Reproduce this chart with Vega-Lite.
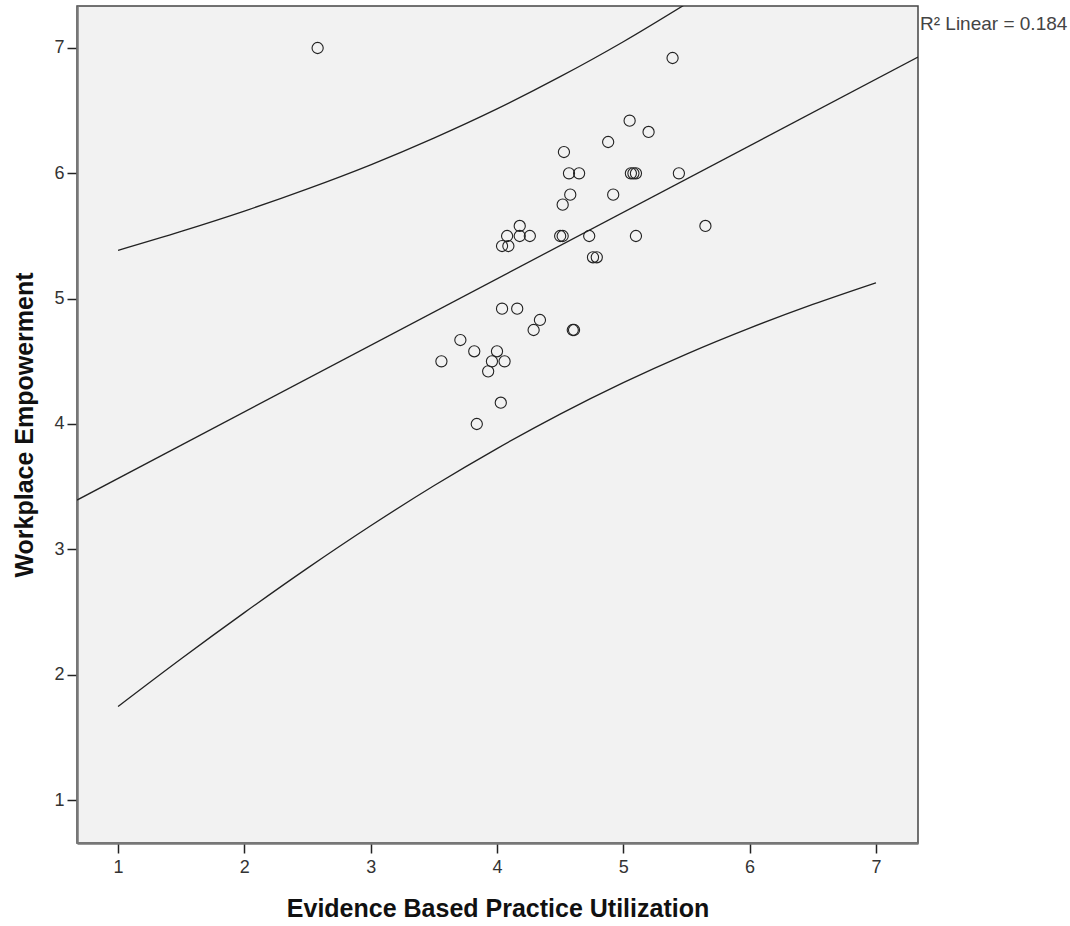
{
  "$schema": "https://vega.github.io/schema/vega-lite/v6.json",
  "autosize": {"type": "none"},
  "width": 841,
  "height": 837,
  "padding": {"left": 77, "top": 6, "right": 152, "bottom": 83},
  "background": "white",
  "config": {
    "view": {"fill": "#f2f2f2", "stroke": "#444444", "strokeWidth": 1.5},
    "font": "Liberation Sans",
    "axis": {
      "grid": false,
      "domainColor": "#777777",
      "domainWidth": 2.5,
      "tickColor": "#222222",
      "tickSize": 10,
      "tickWidth": 1.5,
      "labelColor": "#333333",
      "labelFont": "Liberation Sans Narrow, Liberation Sans",
      "labelFontSize": 18,
      "format": "d",
      "titleFont": "Liberation Sans",
      "titleFontSize": 25,
      "titleFontWeight": "bold",
      "titleColor": "#111111"
    }
  },
  "datasets": {
    "points": [
      {"x": 2.58, "y": 7.0}, {"x": 5.39, "y": 6.92}, {"x": 5.05, "y": 6.42}, {"x": 5.2, "y": 6.33},
      {"x": 4.88, "y": 6.25}, {"x": 4.53, "y": 6.17}, {"x": 4.57, "y": 6.0}, {"x": 4.65, "y": 6.0},
      {"x": 5.06, "y": 6.0}, {"x": 5.08, "y": 6.0}, {"x": 5.1, "y": 6.0}, {"x": 5.44, "y": 6.0},
      {"x": 4.58, "y": 5.83}, {"x": 4.92, "y": 5.83}, {"x": 4.52, "y": 5.75}, {"x": 4.18, "y": 5.58},
      {"x": 5.65, "y": 5.58}, {"x": 4.08, "y": 5.5}, {"x": 4.18, "y": 5.5}, {"x": 4.26, "y": 5.5},
      {"x": 4.5, "y": 5.5}, {"x": 4.52, "y": 5.5}, {"x": 4.73, "y": 5.5}, {"x": 5.1, "y": 5.5},
      {"x": 4.04, "y": 5.42}, {"x": 4.09, "y": 5.42}, {"x": 4.76, "y": 5.33}, {"x": 4.79, "y": 5.33},
      {"x": 4.04, "y": 4.92}, {"x": 4.16, "y": 4.92}, {"x": 4.34, "y": 4.83}, {"x": 4.29, "y": 4.75},
      {"x": 4.6, "y": 4.75}, {"x": 4.61, "y": 4.75}, {"x": 3.71, "y": 4.67}, {"x": 3.82, "y": 4.58},
      {"x": 4.0, "y": 4.58}, {"x": 3.56, "y": 4.5}, {"x": 3.96, "y": 4.5}, {"x": 4.06, "y": 4.5},
      {"x": 3.93, "y": 4.42}, {"x": 4.03, "y": 4.17}, {"x": 3.84, "y": 4.0}
    ],
    "fit": [
      {"x": 0.675, "y": 3.393}, {"x": 7.333, "y": 6.928}
    ],
    "bands": [
      {"x": 1.0, "y": 5.386, "band": "upper"}, {"x": 1.5, "y": 5.537, "band": "upper"},
      {"x": 2.0, "y": 5.699, "band": "upper"}, {"x": 2.5, "y": 5.876, "band": "upper"},
      {"x": 3.0, "y": 6.068, "band": "upper"}, {"x": 3.5, "y": 6.281, "band": "upper"},
      {"x": 4.0, "y": 6.514, "band": "upper"}, {"x": 4.5, "y": 6.771, "band": "upper"},
      {"x": 5.0, "y": 7.05, "band": "upper"}, {"x": 5.5, "y": 7.354, "band": "upper"},
      {"x": 1.0, "y": 1.746, "band": "lower"}, {"x": 1.5, "y": 2.127, "band": "lower"},
      {"x": 2.0, "y": 2.495, "band": "lower"}, {"x": 2.5, "y": 2.85, "band": "lower"},
      {"x": 3.0, "y": 3.188, "band": "lower"}, {"x": 3.5, "y": 3.507, "band": "lower"},
      {"x": 4.0, "y": 3.804, "band": "lower"}, {"x": 4.5, "y": 4.079, "band": "lower"},
      {"x": 5.0, "y": 4.33, "band": "lower"}, {"x": 5.5, "y": 4.558, "band": "lower"},
      {"x": 6.0, "y": 4.765, "band": "lower"}, {"x": 6.5, "y": 4.954, "band": "lower"},
      {"x": 7.0, "y": 5.127, "band": "lower"}
    ]
  },
  "layer": [
    {
      "data": {"name": "bands"},
      "mark": {"type": "line", "color": "#222222", "strokeWidth": 1.3, "interpolate": "monotone", "clip": true},
      "encoding": {
        "x": {"field": "x", "type": "quantitative"},
        "y": {"field": "y", "type": "quantitative"},
        "detail": {"field": "band"}
      }
    },
    {
      "data": {"name": "fit"},
      "mark": {"type": "line", "color": "#222222", "strokeWidth": 1.3, "clip": true},
      "encoding": {
        "x": {"field": "x", "type": "quantitative"},
        "y": {"field": "y", "type": "quantitative"}
      }
    },
    {
      "data": {"name": "points"},
      "mark": {"type": "point", "shape": "circle", "filled": false, "size": 125, "stroke": "#222222", "strokeWidth": 1.1, "opacity": 1},
      "encoding": {
        "x": {
          "field": "x", "type": "quantitative",
          "scale": {"domain": [0.675, 7.333], "nice": false, "zero": false},
          "axis": {"values": [1, 2, 3, 4, 5, 6, 7], "title": "Evidence Based Practice Utilization", "titlePadding": 20, "labelPadding": 5}
        },
        "y": {
          "field": "y", "type": "quantitative",
          "scale": {"domain": [0.657, 7.335], "nice": false, "zero": false},
          "axis": {"values": [1, 2, 3, 4, 5, 6, 7], "title": "Workplace Empowerment", "titlePadding": 16, "labelPadding": 3}
        }
      }
    },
    {
      "data": {"values": [{"label": "R²  Linear = 0.184"}]},
      "mark": {"type": "text", "align": "left", "baseline": "middle", "dx": 2, "fontSize": 19, "color": "#444444", "font": "Liberation Sans Narrow, Liberation Sans", "clip": false},
      "encoding": {
        "x": {"datum": 7.333},
        "y": {"datum": 7.195},
        "text": {"field": "label"}
      }
    }
  ]
}
